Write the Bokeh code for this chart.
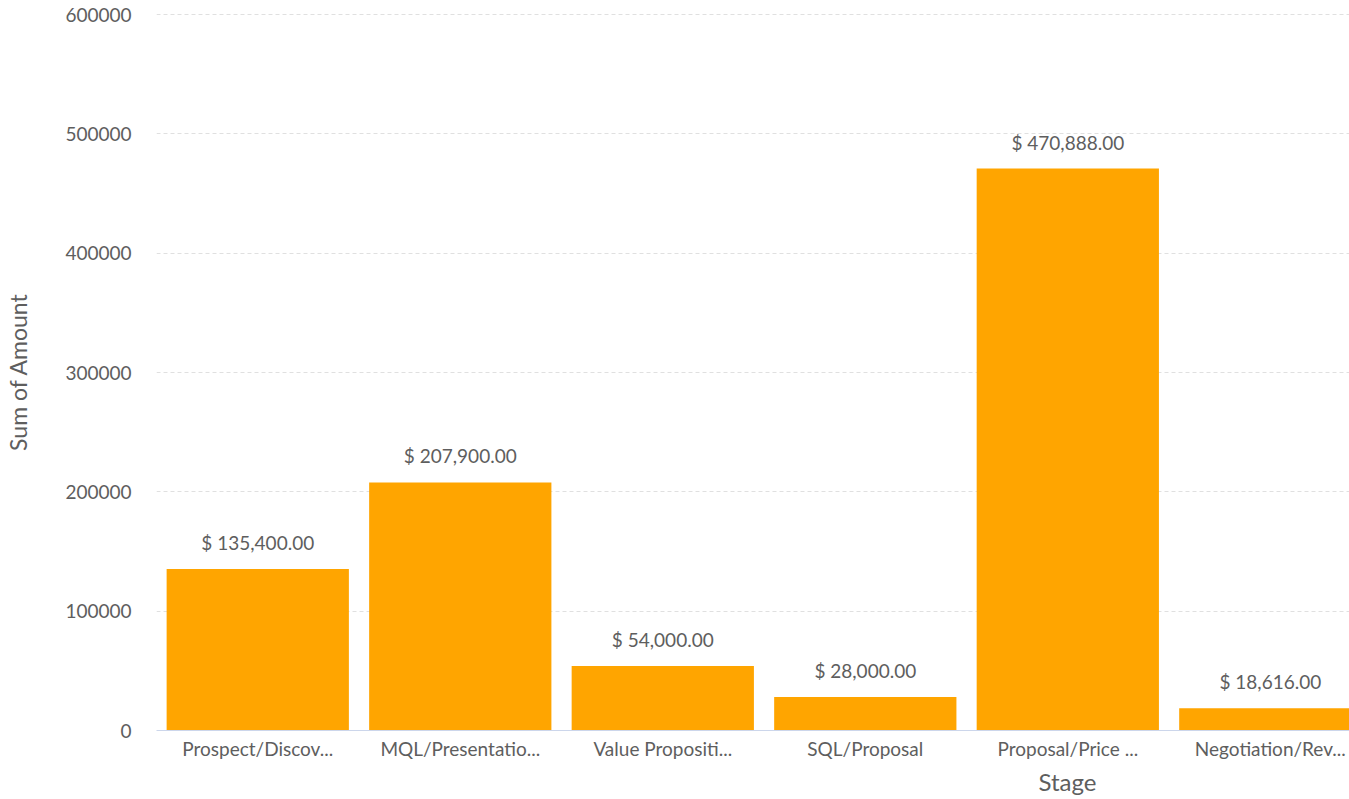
from bokeh.plotting import figure
from bokeh.models import ColumnDataSource, FixedTicker, LabelSet, BasicTickFormatter, Title
from bokeh.core.properties import value
from bokeh.embed import file_html
from bokeh.resources import INLINE

stages = ["Prospect/Discov...", "MQL/Presentatio...", "Value Propositi...",
          "SQL/Proposal", "Proposal/Price ...", "Negotiation/Rev..."]
amounts = [135400, 207900, 54000, 28000, 470888, 18616]
y_ticks = [0, 100000, 200000, 300000, 400000, 500000, 600000]

xs = [i + 0.5 for i in range(len(stages))]
labels = [f"$ {a:,.2f}" for a in amounts]
src = ColumnDataSource(dict(x=xs, top=amounts, label=labels))

FONT = "Lato"
TXT = "#5e5e5e"

p = figure(width=1349, height=799, output_backend="svg", toolbar_location=None,
           x_range=(0, 5.891), y_range=(0, 600840),
           min_border_left=156, min_border_right=0, min_border_top=13, min_border_bottom=69)
p.outline_line_color = None
p.background_fill_color = "white"
p.border_fill_color = "white"

p.vbar(x="x", top="top", width=0.9, bottom=0, source=src, color="#FFA500", line_color=None)

p.add_layout(LabelSet(x="x", y="top", text="label", source=src, y_offset=15,
                      text_align="center", text_baseline="bottom",
                      text_font=value(FONT), text_font_size="19px", text_color=TXT))

# axes
p.xaxis.ticker = FixedTicker(ticks=xs)
p.xaxis.major_label_overrides = {x: s for x, s in zip(xs, stages)}
p.xaxis.major_tick_line_color = None
p.xaxis.minor_tick_line_color = None
p.xaxis.axis_line_color = "#ccd6eb"
p.xaxis.major_label_text_font = FONT
p.xaxis.major_label_text_font_size = "19px"
p.xaxis.major_label_text_color = TXT
p.xaxis.major_label_standoff = 0

p.yaxis.ticker = FixedTicker(ticks=y_ticks)
p.yaxis.formatter = BasicTickFormatter(use_scientific=False)
p.yaxis.major_tick_line_color = None
p.yaxis.minor_tick_line_color = None
p.yaxis.axis_line_color = None
p.yaxis.major_label_text_font = FONT
p.yaxis.major_label_text_font_size = "19px"
p.yaxis.major_label_text_color = TXT
p.yaxis.major_label_standoff = 19
p.yaxis.axis_label = "Sum of Amount"
p.yaxis.axis_label_text_font = FONT
p.yaxis.axis_label_text_font_size = "23px"
p.yaxis.axis_label_text_font_style = "normal"
p.yaxis.axis_label_text_color = TXT
p.yaxis.axis_label_standoff = 30

p.xgrid.grid_line_color = None
p.ygrid.grid_line_color = "#e0e0e0"
p.ygrid.grid_line_dash = "4 3"

p.add_layout(Title(text="Stage", align="left", offset=882, text_font=FONT,
                   text_font_size="24px", text_font_style="normal", text_color=TXT,
                   standoff=5), "below")

open("out.html", "w").write(file_html(p, INLINE))
